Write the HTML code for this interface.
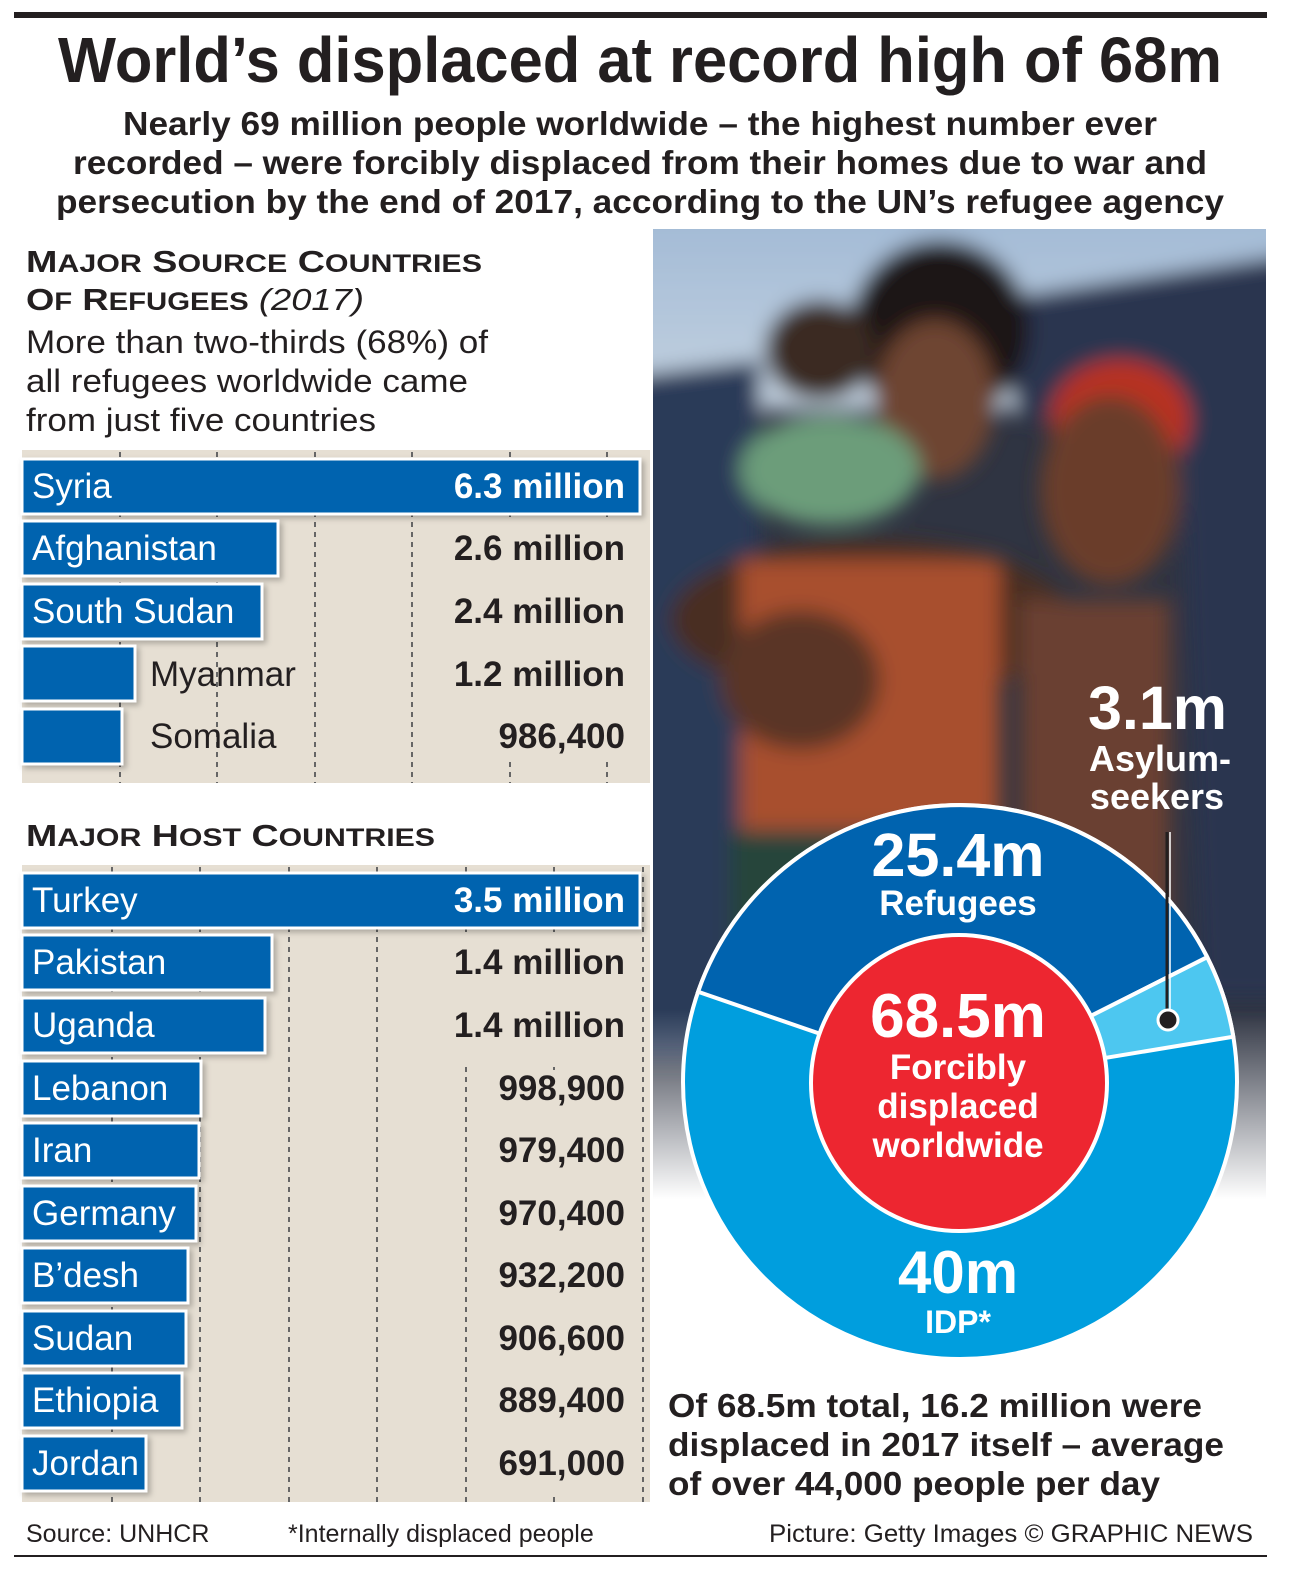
<!DOCTYPE html>
<html><head><meta charset="utf-8"><style>
html,body{margin:0;padding:0;background:#fff}
svg{display:block;font-family:"Liberation Sans",sans-serif}
</style></head><body>
<svg width="1292" height="1584" viewBox="0 0 1292 1584" xmlns="http://www.w3.org/2000/svg">
<defs>
<linearGradient id="fade" x1="0" y1="0" x2="0" y2="1">
<stop offset="0" stop-color="#fff" stop-opacity="0"/>
<stop offset="0.78" stop-color="#fff" stop-opacity="0"/>
<stop offset="0.97" stop-color="#fff" stop-opacity="1"/>
</linearGradient>
<linearGradient id="sky" x1="0" y1="0" x2="0" y2="1">
<stop offset="0" stop-color="#9cb6d4"/><stop offset="1" stop-color="#c4d2e0"/>
</linearGradient>
<filter id="bl" filterUnits="userSpaceOnUse" x="600" y="180" width="720" height="1100"><feGaussianBlur stdDeviation="10"/></filter>
<filter id="sh"><feDropShadow dx="3" dy="3" stdDeviation="3" flood-color="#000" flood-opacity="0.25"/></filter>
<clipPath id="ph"><rect x="653" y="229" width="613" height="1000"/></clipPath>
</defs>
<rect x="14" y="12" width="1253" height="6" fill="#231f20"/>
<text x="640" y="82" font-size="64" font-weight="bold" text-anchor="middle" fill="#231f20" textLength="1164" lengthAdjust="spacingAndGlyphs">World’s displaced at record high of 68m</text>
<g font-size="33" font-weight="bold" fill="#231f20" text-anchor="middle">
<text x="640" y="135" textLength="1034" lengthAdjust="spacingAndGlyphs">Nearly 69 million people worldwide – the highest number ever</text>
<text x="640" y="174" textLength="1134" lengthAdjust="spacingAndGlyphs">recorded – were forcibly displaced from their homes due to war and</text>
<text x="640" y="213" textLength="1168" lengthAdjust="spacingAndGlyphs">persecution by the end of 2017, according to the UN’s refugee agency</text>
</g>

<!-- photo -->
<g clip-path="url(#ph)">
<rect x="653" y="229" width="613" height="1000" fill="#2f3442"/>
<g filter="url(#bl)">
<rect x="600" y="180" width="720" height="230" fill="url(#sky)"/>
<path d="M990 300 L1320 250 L1320 1000 L1200 1000 L1180 420 L1020 420 Z" fill="#2a3450"/>
<path d="M600 380 L760 360 L760 1060 L600 1060 Z" fill="#2c3a58"/>
<ellipse cx="940" cy="330" rx="90" ry="90" fill="#1f1916"/>
<ellipse cx="935" cy="400" rx="60" ry="80" fill="#6e4430"/>
<ellipse cx="820" cy="350" rx="55" ry="50" fill="#3a2a24"/>
<ellipse cx="1120" cy="420" rx="70" ry="60" fill="#b83020"/>
<ellipse cx="1110" cy="490" rx="70" ry="95" fill="#6a3e2c"/>
<ellipse cx="830" cy="470" rx="90" ry="55" fill="#6c9d7a"/>
<ellipse cx="870" cy="620" rx="200" ry="80" fill="#4a2e24"/>
<rect x="740" y="560" width="260" height="280" fill="#a8502e"/>
<ellipse cx="800" cy="680" rx="80" ry="70" fill="#5a3628"/>
<rect x="1020" y="600" width="150" height="500" fill="#6a4030"/>
<rect x="730" y="830" width="250" height="250" fill="#26443a"/>
</g>
<rect x="653" y="229" width="613" height="1000" fill="url(#fade)"/>
</g>

<!-- source chart -->
<text x="26" y="272" font-size="31" font-weight="bold" fill="#231f20" textLength="456" lengthAdjust="spacingAndGlyphs">M<tspan font-size="25">AJOR</tspan> S<tspan font-size="25">OURCE</tspan> C<tspan font-size="25">OUNTRIES</tspan></text>
<text x="26" y="310" font-size="31" font-weight="bold" fill="#231f20" textLength="338" lengthAdjust="spacingAndGlyphs">O<tspan font-size="25">F</tspan> R<tspan font-size="25">EFUGEES</tspan> <tspan font-weight="normal" font-style="italic" font-size="31">(2017)</tspan></text>
<g font-size="32" fill="#231f20">
<text x="26" y="353" textLength="462" lengthAdjust="spacingAndGlyphs">More than two-thirds (68%) of</text>
<text x="26" y="392" textLength="442" lengthAdjust="spacingAndGlyphs">all refugees worldwide came</text>
<text x="26" y="431" textLength="350" lengthAdjust="spacingAndGlyphs">from just five countries</text>
</g>
<rect x="22" y="450" width="628" height="333" fill="#e6dfd3"/>
<g stroke="#666" stroke-width="2" stroke-dasharray="5,5">
<line x1="120" y1="452" x2="120" y2="783"/><line x1="217" y1="452" x2="217" y2="783"/><line x1="315" y1="452" x2="315" y2="783"/><line x1="412" y1="452" x2="412" y2="783"/><line x1="510" y1="452" x2="510" y2="783"/><line x1="607" y1="452" x2="607" y2="783"/>
</g>
<rect x="440" y="522" width="205" height="240" fill="#e6dfd3"/>
<g fill="#0063af" stroke="#fff" stroke-width="3" filter="url(#sh)">
<rect x="22" y="459" width="618" height="55"/>
<rect x="22" y="521" width="256" height="55"/>
<rect x="22" y="584" width="240" height="55"/>
<rect x="22" y="646" width="113" height="55"/>
<rect x="22" y="709" width="100" height="55"/>
</g>
<g font-size="35">
<text x="32" y="498" fill="#fff">Syria</text>
<text x="32" y="560" fill="#fff">Afghanistan</text>
<text x="32" y="623" fill="#fff">South Sudan</text>
<text x="150" y="686" fill="#231f20">Myanmar</text>
<text x="150" y="748" fill="#231f20">Somalia</text>
</g>
<g font-size="35" font-weight="bold" text-anchor="end">
<text x="625" y="498" fill="#fff">6.3 million</text>
<text x="625" y="560" fill="#231f20">2.6 million</text>
<text x="625" y="623" fill="#231f20">2.4 million</text>
<text x="625" y="686" fill="#231f20">1.2 million</text>
<text x="625" y="748" fill="#231f20">986,400</text>
</g>

<!-- host chart -->
<text x="26" y="846" font-size="31" font-weight="bold" fill="#231f20" textLength="409" lengthAdjust="spacingAndGlyphs">M<tspan font-size="25">AJOR</tspan> H<tspan font-size="25">OST</tspan> C<tspan font-size="25">OUNTRIES</tspan></text>
<rect x="22" y="865" width="628" height="637" fill="#e6dfd3"/>
<g stroke="#666" stroke-width="2" stroke-dasharray="5,5">
<line x1="112" y1="867" x2="112" y2="1502"/><line x1="200" y1="867" x2="200" y2="1502"/><line x1="289" y1="867" x2="289" y2="1502"/><line x1="377" y1="867" x2="377" y2="1502"/><line x1="466" y1="867" x2="466" y2="1502"/><line x1="554" y1="867" x2="554" y2="1502"/><line x1="643" y1="867" x2="643" y2="1502"/>
</g>
<rect x="470" y="1070" width="172" height="425" fill="#e6dfd3"/>
<rect x="440" y="936" width="202" height="130" fill="#e6dfd3"/>
<g fill="#0063af" stroke="#fff" stroke-width="3" filter="url(#sh)">
<rect x="22" y="873" width="618" height="55"/>
<rect x="22" y="935" width="250" height="55"/>
<rect x="22" y="998" width="243" height="55"/>
<rect x="22" y="1061" width="179" height="55"/>
<rect x="22" y="1123" width="177" height="55"/>
<rect x="22" y="1186" width="174" height="55"/>
<rect x="22" y="1248" width="166" height="55"/>
<rect x="22" y="1311" width="164" height="55"/>
<rect x="22" y="1373" width="160" height="55"/>
<rect x="22" y="1436" width="124" height="55"/>
</g>
<g font-size="35" fill="#fff">
<text x="32" y="912">Turkey</text>
<text x="32" y="974">Pakistan</text>
<text x="32" y="1037">Uganda</text>
<text x="32" y="1100">Lebanon</text>
<text x="32" y="1162">Iran</text>
<text x="32" y="1225">Germany</text>
<text x="32" y="1287">B’desh</text>
<text x="32" y="1350">Sudan</text>
<text x="32" y="1412">Ethiopia</text>
<text x="32" y="1475">Jordan</text>
</g>
<g font-size="35" font-weight="bold" text-anchor="end" fill="#231f20">
<text x="625" y="912" fill="#fff">3.5 million</text>
<text x="625" y="974">1.4 million</text>
<text x="625" y="1037">1.4 million</text>
<text x="625" y="1100">998,900</text>
<text x="625" y="1162">979,400</text>
<text x="625" y="1225">970,400</text>
<text x="625" y="1287">932,200</text>
<text x="625" y="1350">906,600</text>
<text x="625" y="1412">889,400</text>
<text x="625" y="1475">691,000</text>
</g>

<!-- donut -->
<g stroke="#fff" stroke-width="4">
<circle cx="960" cy="1082" r="277" fill="#009ede"/>
<path d="M960 1082 L698.1 991.8 A277 277 0 0 1 1207.2 957.2 Z" fill="#0063af"/>
<path d="M960 1082 L1207.2 957.2 A277 277 0 0 1 1233.3 1036.7 Z" fill="#4dc7f0"/>
<circle cx="959" cy="1083" r="148" fill="#ed2630"/>
</g>
<line x1="1167" y1="832" x2="1167" y2="1018" stroke="#231f20" stroke-width="3"/>
<line x1="1170" y1="832" x2="1170" y2="1018" stroke="#fff" stroke-width="1.5"/>
<circle cx="1168" cy="1020" r="10" fill="#231f20" stroke="#fff" stroke-width="3"/>
<g fill="#fff" font-weight="bold" text-anchor="middle">
<text x="958" y="876" font-size="61">25.4m</text>
<text x="958" y="915" font-size="35">Refugees</text>
<text x="958" y="1037" font-size="62">68.5m</text>
<text x="958" y="1079" font-size="35">Forcibly</text>
<text x="958" y="1118" font-size="35">displaced</text>
<text x="958" y="1157" font-size="35">worldwide</text>
<text x="958" y="1293" font-size="60">40m</text>
<text x="958" y="1333" font-size="32">IDP*</text>
<text x="1227" y="729" font-size="61" text-anchor="end">3.1m</text>
<text x="1160" y="771" font-size="36">Asylum-</text>
<text x="1157" y="809" font-size="36">seekers</text>
</g>
<g font-size="33" font-weight="bold" fill="#231f20">
<text x="668" y="1417" textLength="534" lengthAdjust="spacingAndGlyphs">Of 68.5m total, 16.2 million were</text>
<text x="668" y="1456" textLength="556" lengthAdjust="spacingAndGlyphs">displaced in 2017 itself – average</text>
<text x="668" y="1495" textLength="492" lengthAdjust="spacingAndGlyphs">of over 44,000 people per day</text>
</g>
<g font-size="25" fill="#231f20">
<text x="26" y="1542">Source: UNHCR</text>
<text x="288" y="1542">*Internally displaced people</text>
<text x="1253" y="1542" text-anchor="end" textLength="484" lengthAdjust="spacingAndGlyphs">Picture: Getty Images  © GRAPHIC NEWS</text>
</g>
<rect x="14" y="1555" width="1253" height="2" fill="#231f20"/>
</svg>
</body></html>
